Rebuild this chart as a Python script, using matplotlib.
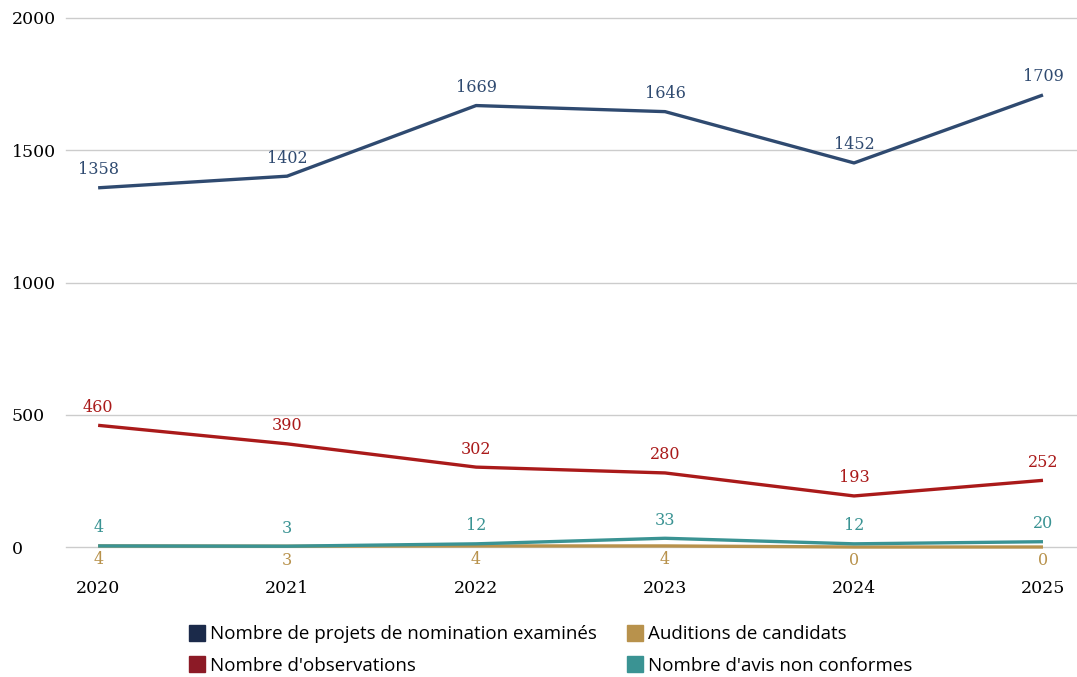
import matplotlib
matplotlib.use("Agg")
import matplotlib.pyplot as plt
from matplotlib.lines import Line2D

years = ["2020", "2021", "2022", "2023", "2024", "2025"]
projets = [1358, 1402, 1669, 1646, 1452, 1709]
observations = [460, 390, 302, 280, 193, 252]
auditions = [4, 3, 4, 4, 0, 0]
avis_non_conformes = [4, 3, 12, 33, 12, 20]
y_ticks = [0, 500, 1000, 1500, 2000]

NAVY = "#2F4A70"
RED = "#AA1A1A"
GOLD = "#B8924C"
TEAL = "#3A9393"

fig = plt.figure(figsize=(10.77, 6.77), dpi=100)
ax = fig.add_axes([66 / 1077, 1 - 547 / 677, 1 - 66 / 1077, (547 - 18) / 677])

x = range(len(years))
series = [
    (projets, NAVY, 13),
    (observations, RED, 13),
    (auditions, GOLD, -10),
    (avis_non_conformes, TEAL, 13),
]
for vals, color, off in series:
    ax.plot(x, vals, color=color, lw=2.4, solid_capstyle="butt", zorder=3, clip_on=False)
    for xi, v in zip(x, vals):
        ax.annotate(str(v), (xi, v), xytext=(0, off), textcoords="offset points",
                    ha="center", va="center", color=color, fontsize=11.5,
                    family="DejaVu Serif")

ax.set_xlim(-0.17, 5.18)
ax.set_ylim(0, 2000)
ax.set_yticks(y_ticks)
ax.set_yticklabels([str(t) for t in y_ticks], family="DejaVu Serif", fontsize=12.5)
for lab in ax.get_yticklabels():
    lab.set_horizontalalignment("left")
ax.tick_params(axis="y", length=0, pad=39)
ax.set_xticks(list(x))
ax.set_xticklabels(years, family="DejaVu Serif", fontsize=12.5)
ax.tick_params(axis="x", length=0, pad=24)
ax.grid(axis="y", color="#cccccc", lw=1)
for gl in ax.get_ygridlines():
    gl.set_clip_on(False)
ax.set_axisbelow(True)
for s in ax.spines.values():
    s.set_visible(False)

handles = [
    Line2D([], [], ls="", marker="s", ms=11, color="#1B2A4A"),
    Line2D([], [], ls="", marker="s", ms=11, color="#8C1A26"),
    Line2D([], [], ls="", marker="s", ms=11, color=GOLD),
    Line2D([], [], ls="", marker="s", ms=11, color=TEAL),
]
labels = ["Nombre de projets de nomination examinés", "Nombre d'observations",
          "Auditions de candidats", "Nombre d'avis non conformes"]
fig.legend(handles, labels, loc="center", bbox_to_anchor=(550 / 1077, 1 - 650 / 677),
           ncol=2, frameon=False, prop={"family": "Open Sans", "size": 13.5},
           handletextpad=0.2, columnspacing=1.5, labelspacing=0.72, handlelength=1)

fig.savefig("out.png", dpi=100)
